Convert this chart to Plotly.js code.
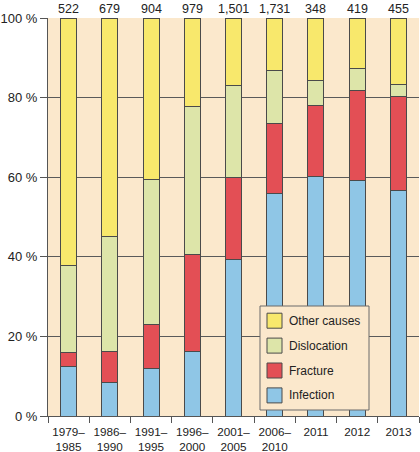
<!DOCTYPE html>
<html>
<head>
<meta charset="utf-8">
<script src="https://cdn.plot.ly/plotly-3.0.1.min.js"></script>
<style>html,body{margin:0;padding:0;background:#fff;}#chart{width:420px;height:452px;}</style>
</head>
<body>
<div id="chart"></div>
<script>
const categories = ["1979–<br>1985","1986–<br>1990","1991–<br>1995","1996–<br>2000","2001–<br>2005","2006–<br>2010","2011","2012","2013"];
const counts = ["522","679","904","979","1,501","1,731","348","419","455"];
const infection   = [12.4, 8.4, 12.0, 16.1, 39.4, 55.8, 60.3, 59.1, 56.6];
const fracture    = [3.6, 7.8, 11.1, 24.4, 20.5, 17.6, 17.6, 22.8, 23.8];
const dislocation = [21.7, 28.9, 36.4, 37.2, 23.1, 13.3, 6.5, 5.3, 2.9];
const other       = [62.3, 54.9, 40.5, 22.3, 17.0, 13.3, 15.6, 12.8, 16.7];
const yTickVals = [0, 20, 40, 60, 80, 100];
const yTickText = ["0 %","20 %","40 %","60 %","80 %","100 %"];

const series = [
  {name: "Infection", y: infection, color: "#8fc6e6"},
  {name: "Fracture", y: fracture, color: "#e34f55"},
  {name: "Dislocation", y: dislocation, color: "#dde5a9"},
  {name: "Other causes", y: other, color: "#f8e86c"}
];
const lineColor = "#4a4a4a";
const traces = series.map(s => ({
  type: "bar",
  x: categories,
  y: s.y,
  name: s.name,
  width: 0.39,
  marker: {color: s.color, line: {color: lineColor, width: 1}},
  hoverinfo: "skip",
  showlegend: false
}));

// plot area in pixels
const M = {l: 48, r: 1, t: 18, b: 36};
const W = 420, H = 452;
const pw = W - M.l - M.r, ph = H - M.t - M.b;
const px = x => (x - M.l) / pw;
const py = y => (H - M.b - y) / ph;

const annotations = counts.map((c, i) => ({
  x: i, y: 1, xref: "x", yref: "paper",
  text: c, showarrow: false,
  yanchor: "bottom",
  font: {size: 12.5, color: "#222"}
}));

// legend drawn as shapes + text (top to bottom: reversed series order)
const shapes = [{
  type: "rect", xref: "paper", yref: "paper", layer: "above",
  x0: px(260), x1: px(369), y0: py(410), y1: py(306),
  fillcolor: "#fbe8cc", line: {color: "#6a6a6a", width: 1}
}];
const legendItems = series.slice().reverse();
const itemY0 = 320.7, itemStep = 24.9;
legendItems.forEach((s, k) => {
  const cy = itemY0 + k * itemStep;
  shapes.push({
    type: "rect", xref: "paper", yref: "paper", layer: "above",
    x0: px(267), x1: px(282), y0: py(cy + 7.5), y1: py(cy - 7.5),
    fillcolor: s.color, line: {color: lineColor, width: 1}
  });
  annotations.push({
    x: px(287), y: py(cy), xref: "paper", yref: "paper",
    xanchor: "left", yanchor: "middle", showarrow: false,
    text: s.name, font: {size: 12, color: "#222"}
  });
});

const layout = {
  width: W, height: H,
  margin: M,
  paper_bgcolor: "#ffffff",
  plot_bgcolor: "#fbe8cc",
  barmode: "stack",
  font: {family: "Liberation Sans, Arial, sans-serif", size: 12, color: "#222"},
  showlegend: false,
  xaxis: {
    type: "category",
    range: [-0.5, 8.5],
    showline: true, linecolor: "#555", linewidth: 1,
    ticks: "outside", tickson: "boundaries", ticklen: 6, tickcolor: "#555",
    tickangle: 0, ticklabelstandoff: 5,
    showgrid: false, fixedrange: true,
    tickfont: {size: 11.7, color: "#222"}
  },
  yaxis: {
    range: [0, 100],
    tickvals: yTickVals, ticktext: yTickText,
    showline: true, linecolor: "#555", linewidth: 1,
    ticks: "outside", ticklen: 7, tickcolor: "#555",
    showgrid: true, gridcolor: "#5a5a5a", gridwidth: 1,
    zeroline: false, fixedrange: true,
    tickfont: {size: 13, color: "#222"}
  },
  shapes: shapes,
  annotations: annotations
};

Plotly.newPlot("chart", traces, layout, {displayModeBar: false, staticPlot: true});
</script>
</body>
</html>
